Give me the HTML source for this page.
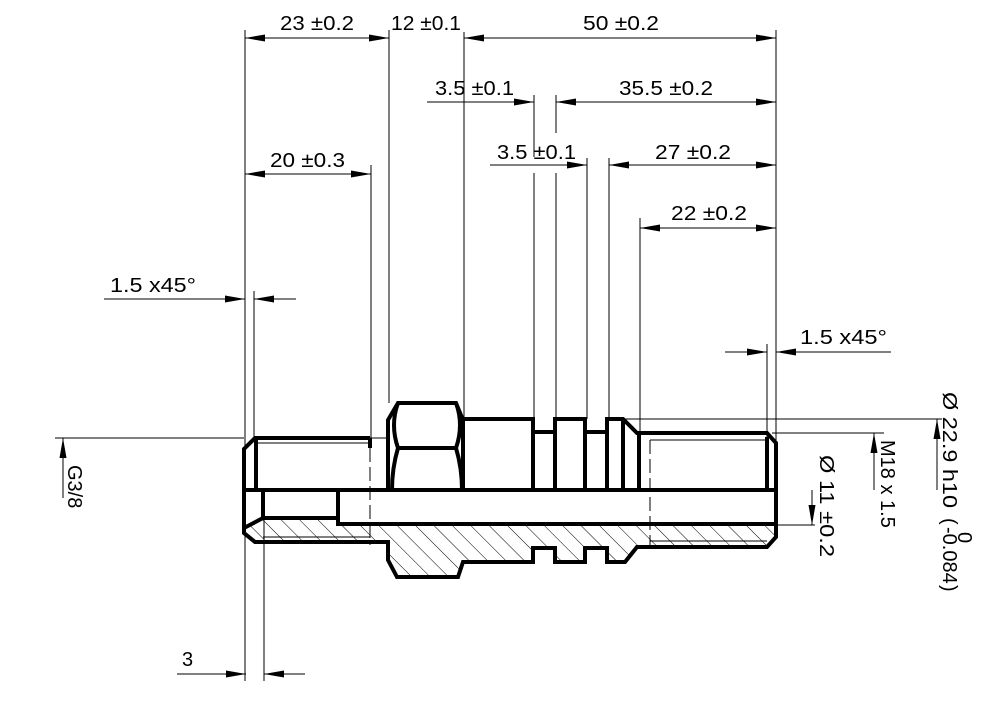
<!DOCTYPE html>
<html><head><meta charset="utf-8"><style>
html,body{margin:0;padding:0;background:#fff;}
svg{display:block;}
text{font-family:"Liberation Sans",sans-serif;font-size:20px;fill:#000;}
</style></head><body>
<svg width="1007" height="714" viewBox="0 0 1007 714" xmlns="http://www.w3.org/2000/svg">
<defs>
<marker id="a" markerUnits="userSpaceOnUse" markerWidth="22" markerHeight="8" refX="20" refY="3.5" orient="auto-start-reverse"><path d="M0,0 L20,3.5 L0,7 z" fill="#000"/></marker>
<pattern id="h" patternUnits="userSpaceOnUse" width="13" height="13" patternTransform="rotate(-45)"><line x1="0" y1="-2" x2="0" y2="15" stroke="#000" stroke-width="1"/></pattern>
</defs>

<polygon fill="url(#h)" points="244,528 263,518 338,518 338,524 776,524 776,537 767,547 637,547 625,562 607,562 607,548 585,548 585,562 555,562 555,548 533,548 533,562 463,562 458,577 397,577 388,560 388,542 255,542 244,533"/>

<g stroke="#000" stroke-width="1" fill="none">
<line x1="245" y1="30" x2="245" y2="681"/>
<line x1="254" y1="291" x2="254" y2="438"/>
<line x1="264" y1="490" x2="264" y2="681"/>
<line x1="371" y1="165" x2="371" y2="438"/>
<line x1="389" y1="30" x2="389" y2="403"/>
<line x1="464" y1="32" x2="464" y2="419"/>
<line x1="534" y1="95" x2="534" y2="157"/>
<line x1="534" y1="173" x2="534" y2="419"/>
<line x1="556" y1="95" x2="556" y2="133"/>
<line x1="556" y1="173" x2="556" y2="419"/>
<line x1="587" y1="158" x2="587" y2="419"/>
<line x1="609" y1="158" x2="609" y2="419"/>
<line x1="640" y1="218" x2="640" y2="433"/>
<line x1="776" y1="30" x2="776" y2="443"/>
<line x1="767" y1="344" x2="767" y2="440"/>
<line x1="55" y1="438" x2="244" y2="438"/>
<line x1="625" y1="419" x2="942" y2="419"/>
<line x1="772" y1="433" x2="884" y2="433"/>
<line x1="776" y1="525" x2="815" y2="525"/>
<line x1="245" y1="38" x2="389" y2="38" marker-start="url(#a)" marker-end="url(#a)"/>
<line x1="464" y1="38" x2="776" y2="38" marker-start="url(#a)" marker-end="url(#a)"/>
<line x1="427" y1="102" x2="534" y2="102" marker-end="url(#a)"/>
<line x1="556" y1="102" x2="776" y2="102" marker-start="url(#a)" marker-end="url(#a)"/>
<line x1="490" y1="165" x2="587" y2="165" marker-end="url(#a)"/>
<line x1="609" y1="165" x2="776" y2="165" marker-start="url(#a)" marker-end="url(#a)"/>
<line x1="245" y1="174" x2="371" y2="174" marker-start="url(#a)" marker-end="url(#a)"/>
<line x1="640" y1="228" x2="776" y2="228" marker-start="url(#a)" marker-end="url(#a)"/>
<line x1="104" y1="299" x2="245" y2="299" marker-end="url(#a)"/>
<line x1="296" y1="299" x2="254" y2="299" marker-end="url(#a)"/>
<line x1="725" y1="352" x2="767" y2="352" marker-end="url(#a)"/>
<line x1="891" y1="352" x2="776" y2="352" marker-end="url(#a)"/>
<line x1="177" y1="674" x2="246" y2="674" marker-end="url(#a)"/>
<line x1="305" y1="674" x2="264" y2="674" marker-end="url(#a)"/>
<line x1="63" y1="498" x2="63" y2="438" marker-end="url(#a)"/>
<line x1="937" y1="490" x2="937" y2="419" marker-end="url(#a)"/>
<line x1="874" y1="490" x2="874" y2="433" marker-end="url(#a)"/>
<line x1="812" y1="490" x2="812" y2="525" marker-end="url(#a)"/>
<line x1="258" y1="443" x2="370" y2="443"/>
<line x1="263" y1="537" x2="370" y2="537"/>
<line x1="650" y1="440" x2="767" y2="440"/>
<line x1="650" y1="541" x2="767" y2="541"/>
<line x1="370" y1="438" x2="388" y2="438"/>
<line x1="370" y1="448" x2="370" y2="545" stroke-dasharray="14,5"/>
<line x1="650" y1="440" x2="650" y2="547" stroke-dasharray="14,5"/>
</g>

<g stroke="#000" stroke-width="4" fill="none" stroke-linejoin="miter">
<line x1="244" y1="490" x2="776" y2="490"/>
<polyline points="244,528 263,518 338,518 338,524 776,524"/>
<line x1="263" y1="490" x2="263" y2="518"/>
<line x1="338" y1="490" x2="338" y2="524"/>
<polyline points="244,490 244,449 255,438 370,438"/>
<line x1="370" y1="438" x2="370" y2="448"/>
<line x1="256" y1="440" x2="256" y2="490"/>
<polyline points="244,490 244,533 255,542 388,542 388,560 397,577 458,577 463,562 533,562 533,548 555,548 555,562 585,562 585,548 607,548 607,562 625,562 637,547 767,547 776,537 776,443 767,433 637,433 623,419 607,419 607,432 585,432 585,419 555,419 555,432 533,432 533,419 463,419"/>
<polyline points="388,490 388,420 398,403 456,403 463,420 463,490"/>
<line x1="398" y1="448" x2="456" y2="448"/>
<path d="M398,403 Q390,425 398,448 Q392,468 392,490"/>
<path d="M456,403 Q464,425 456,448 Q462,468 462,490"/>
<line x1="533" y1="432" x2="533" y2="490"/>
<line x1="555" y1="432" x2="555" y2="490"/>
<line x1="585" y1="432" x2="585" y2="490"/>
<line x1="607" y1="432" x2="607" y2="490"/>
<line x1="623" y1="419" x2="623" y2="490"/>
<line x1="639" y1="433" x2="639" y2="490"/>
<line x1="767" y1="437" x2="767" y2="490"/>
</g>

<text x="280" y="30" textLength="74" lengthAdjust="spacingAndGlyphs">23 ±0.2</text>
<text x="391" y="30" textLength="70" lengthAdjust="spacingAndGlyphs">12 ±0.1</text>
<text x="583" y="30" textLength="76" lengthAdjust="spacingAndGlyphs">50 ±0.2</text>
<text x="435" y="95" textLength="79" lengthAdjust="spacingAndGlyphs">3.5 ±0.1</text>
<text x="619" y="95" textLength="94" lengthAdjust="spacingAndGlyphs">35.5 ±0.2</text>
<text x="497" y="159" textLength="79" lengthAdjust="spacingAndGlyphs">3.5 ±0.1</text>
<text x="655" y="159" textLength="76" lengthAdjust="spacingAndGlyphs">27 ±0.2</text>
<text x="270" y="167" textLength="75" lengthAdjust="spacingAndGlyphs">20 ±0.3</text>
<text x="671" y="220" textLength="76" lengthAdjust="spacingAndGlyphs">22 ±0.2</text>
<text x="110" y="292" textLength="86" lengthAdjust="spacingAndGlyphs">1.5  x45°</text>
<text x="800" y="344" textLength="87" lengthAdjust="spacingAndGlyphs">1.5  x45°</text>
<text x="182" y="666">3</text>
<text transform="translate(68,465) rotate(90)" font-size="19">G3/8</text>
<text transform="translate(881,440) rotate(90)" font-size="19">M18 x 1.5</text>
<text transform="translate(820,455) rotate(90)" textLength="102" lengthAdjust="spacingAndGlyphs">Ø 11 ±0.2</text>
<text transform="translate(943,392) rotate(90)" textLength="116" lengthAdjust="spacingAndGlyphs">Ø  22.9 h10</text>
<text transform="translate(943,518) rotate(90)" font-size="22">(</text>
<text transform="translate(943,585) rotate(90)" font-size="22">)</text>
<text transform="translate(958,532) rotate(90)" font-size="15">0</text>
<text transform="translate(943,527) rotate(90)" font-size="15">-0.084</text>
</svg>
</body></html>
